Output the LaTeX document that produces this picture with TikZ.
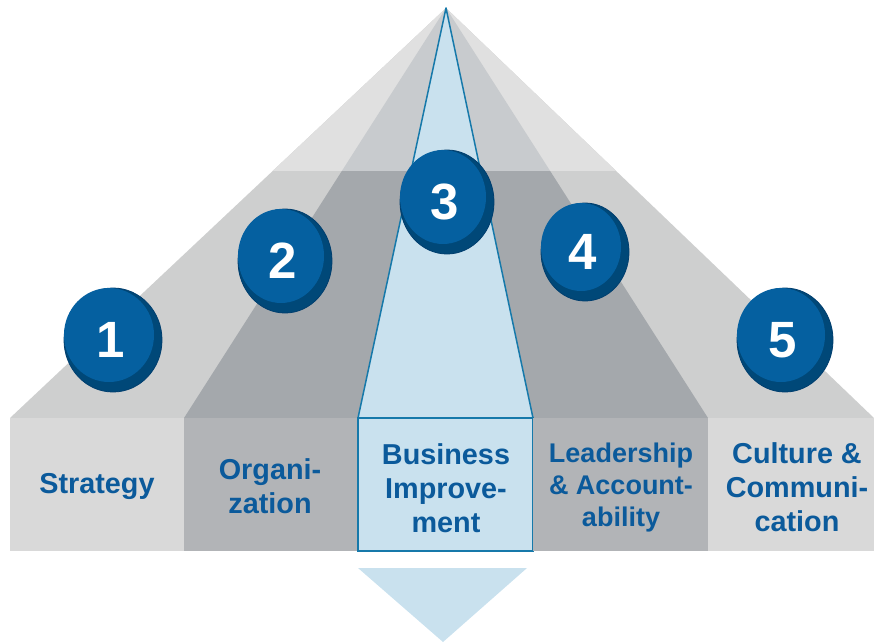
\documentclass[tikz,border=0pt]{standalone}
\usepackage{fontspec}
\setmainfont{Liberation Sans}
\usetikzlibrary{calc}
\definecolor{topout}{HTML}{E0E0E0}
\definecolor{topin}{HTML}{C8CBCE}
\definecolor{lowout}{HTML}{CECFCF}
\definecolor{lowin}{HTML}{A4A8AC}
\definecolor{boxlight}{HTML}{D9D9D9}
\definecolor{boxdark}{HTML}{B2B4B7}
\definecolor{bluefill}{HTML}{C9E1EE}
\definecolor{blueline}{HTML}{1679AA}
\definecolor{textblue}{HTML}{0B5A9B}
\definecolor{coinlight}{HTML}{0560A0}
\definecolor{coindark}{HTML}{004878}
\definecolor{coinedge}{HTML}{003E6E}
\tikzset{
  label/.style={text=textblue, align=center, font=\bfseries\fontsize{28.8}{34}\selectfont, inner sep=0pt},
  num/.style={text=white, font=\bfseries\fontsize{51}{51}\selectfont, inner sep=0pt},
}
\newcommand\coin[6]{%
  \fill[coindark, draw=coinedge, line width=0.8pt] (#2,#3) ellipse [x radius=#4pt, y radius=#5pt];
  \fill[coinlight] ($(#2,#3)+(-4,-5)$) ellipse [x radius={#4pt-4pt}, y radius={#5pt-5pt}];
  \node[num] (#1) at ($(#2,#3)+(-2,0)$) {#6};
}
\begin{document}
\begin{tikzpicture}[x=1pt,y=-1pt]
\useasboundingbox (0,0) rectangle (874,642);
\coordinate (A) at (446,8);
\coordinate (L0) at (10,418);
\coordinate (B1) at (184,418);
\coordinate (B2) at (358,418);
\coordinate (B3) at (533,418);
\coordinate (B4) at (708,418);
\coordinate (R0) at (874,418);
% lower band
\fill[lowout] (A) -- (L0) -- (R0) -- cycle;
\fill[lowin] (A) -- (B1) -- (B4) -- cycle;
% upper band
\begin{scope}
  \clip (0,0) rectangle (874,170);
  \fill[topout] (A) -- (L0) -- (R0) -- cycle;
  \fill[topin] (A) -- (B1) -- (B4) -- cycle;
\end{scope}
% central blue wedge
\filldraw[fill=bluefill, draw=blueline, line width=1.5pt, line join=round] (A) -- (B2) -- (B3) -- cycle;
% front boxes
\fill[boxlight] (10,418) rectangle (184,551);
\fill[boxdark] (184,418) rectangle (358,551);
\filldraw[fill=bluefill, draw=blueline, line width=1.5pt] (358,418) rectangle (533,551);
\fill[boxdark] (533,418) rectangle (708,551);
\fill[boxlight] (708,418) rectangle (874,551);
% coins
\coin{c1}{113}{340}{49}{52}{1}
\coin{c2}{285}{261}{47}{52}{2}
\coin{c3}{447}{202}{47}{52}{3}
\coin{c4}{585}{252}{44}{49}{4}
\coin{c5}{785}{340}{48}{52}{5}
% labels
\node[label] (l1) at (97,486) {Strategy};
\node[label] (l2) at (270,486) {Organi-\\zation};
\node[label] (l3) at (446,488) {Business\\Improve-\\ment};
\node[label, font=\bfseries\fontsize{27}{32}\selectfont] (l4) at (621,488) {Leadership\\\& Account-\\ability};
\node[label] (l5) at (797,487) {Culture \&\\Communi-\\cation};
% bottom arrow
\fill[bluefill] (358,568) -- (527,568) -- (443,642) -- cycle;
\end{tikzpicture}
\end{document}
